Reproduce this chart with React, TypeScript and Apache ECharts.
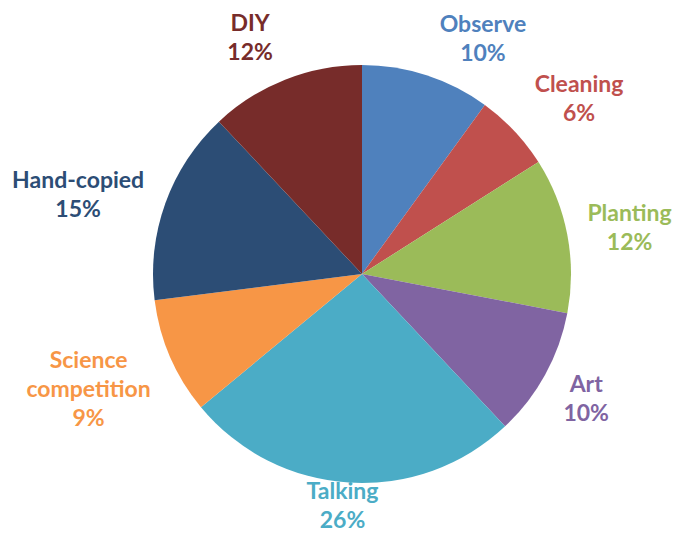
import React, { useEffect, useRef } from "react";
import * as echarts from "echarts";

const categories = ["Observe", "Cleaning", "Planting", "Art", "Talking", "Science competition", "Hand-copied", "DIY"];
const values = [10, 6, 12, 10, 26, 9, 15, 12];
const colors = ["#4F81BD", "#C0504D", "#9BBB59", "#8064A2", "#4BACC6", "#F79646", "#2C4D75", "#772C2A"];
// label placement tuning (label line lengths, line hidden)
const labelLen = [40, 49, 42, 48, 22, 78, 30, 46];
const labelLen2 = [44, 29, 21, -1, 5, 10, 59, 18];

export default function App() {
  const ref = useRef<HTMLDivElement>(null);
  useEffect(() => {
    if (!ref.current) return;
    const chart = echarts.init(ref.current, null, { renderer: "svg" });
    const data = categories.map((name, i) => ({
      name,
      value: values[i],
      itemStyle: { color: colors[i] },
      label: { color: colors[i] },
      labelLine: { show: false, length: labelLen[i], length2: labelLen2[i] },
    }));
    chart.setOption({
      animation: false,
      backgroundColor: "#ffffff",
      series: [
        {
          type: "pie",
          center: [362, 274],
          radius: 209,
          startAngle: 90,
          clockwise: true,
          avoidLabelOverlap: false,
          data,
          itemStyle: { borderWidth: 0 },
          label: {
            show: true,
            position: "outside",
            alignTo: "none",
            distanceToLabelLine: 0,
            fontFamily: "Lato",
            fontWeight: "bold",
            fontSize: 23,
            lineHeight: 29,
            align: "center",
            formatter: (p: any) => p.name.replace(" ", "\n") + "\n" + Math.round(p.percent) + "%",
          },
          labelLayout: () => ({ align: "center", verticalAlign: "middle" }),
          emphasis: { disabled: true },
        },
      ],
    });
    return () => chart.dispose();
  }, []);
  return (
    <div
      ref={ref}
      style={{ position: "fixed", left: 0, top: 0, width: 673, height: 535, background: "#fff" }}
    />
  );
}
